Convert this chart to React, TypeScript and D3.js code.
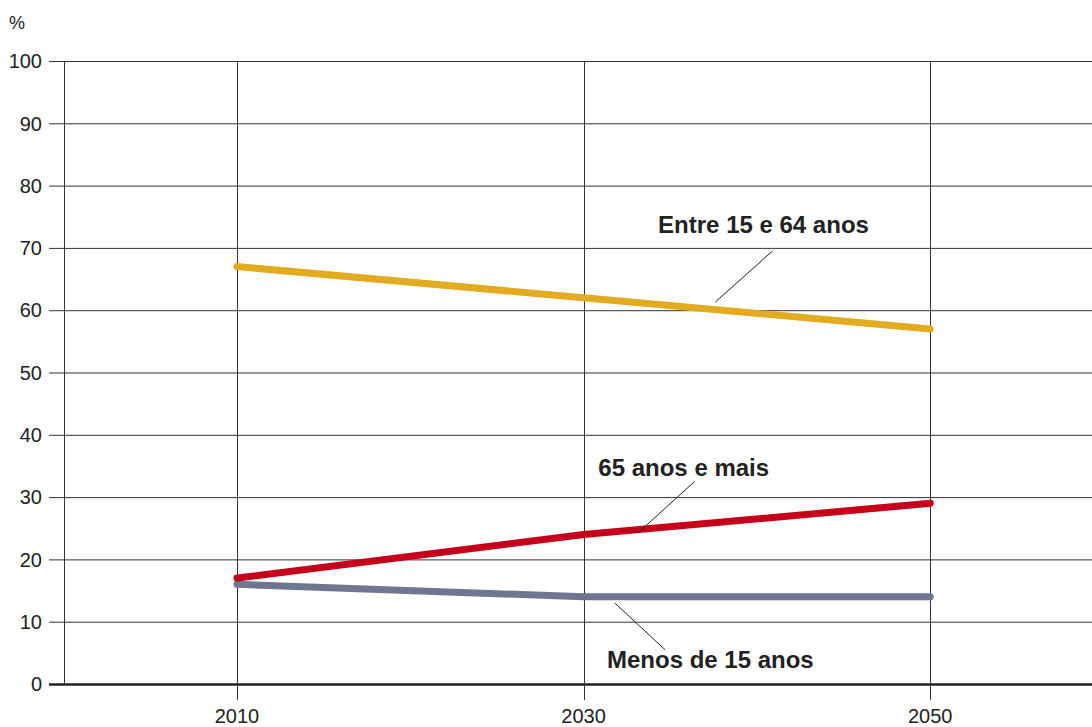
import * as d3 from 'd3';
import {useEffect, useRef} from 'react';

// values (percent of population)
const years = [2010, 2030, 2050];
const workingAge = [67, 62, 57];
const elderly = [17, 24, 29];
const children = [16, 14, 14];
const yTicks = [0, 10, 20, 30, 40, 50, 60, 70, 80, 90, 100];

const seriesNames = ['Entre 15 e 64 anos', '65 anos e mais', 'Menos de 15 anos'];
const seriesColors = ['#e3ab20', '#c4001b', '#6f7691'];

export default function App() {
    const svgRef = useRef<SVGSVGElement>(null);

    const width = 1092;
    const height = 727;

    useEffect(() => {
        const svg = d3.select(svgRef.current);
        svg.selectAll('*').remove();

        const left = 64;
        const top = 61;
        const bottom = 684;

        const x = d3.scaleLinear().domain([2000, 2060]).range([63.7, 63.7 + 60 * 17.33]);
        const y = d3.scaleLinear().domain([0, 100]).range([bottom, top]);

        const font = '"Liberation Sans", Arial, Helvetica, sans-serif';

        // horizontal grid + y ticks
        const grid = svg.append('g');
        grid.selectAll('line.h')
            .data(yTicks)
            .enter()
            .append('line')
            .attr('x1', left - 15)
            .attr('x2', width)
            .attr('y1', d => y(d) + 0.5)
            .attr('y2', d => y(d) + 0.5)
            .attr('stroke', d => d === 0 ? '#222' : '#333')
            .attr('stroke-width', d => d === 0 ? 2.5 : 1);

        // vertical lines at each year
        grid.selectAll('line.v')
            .data(years)
            .enter()
            .append('line')
            .attr('x1', d => Math.round(x(d)) + 0.5)
            .attr('x2', d => Math.round(x(d)) + 0.5)
            .attr('y1', top)
            .attr('y2', bottom + 16)
            .attr('stroke', '#333')
            .attr('stroke-width', 1);

        // left axis line
        grid.append('line')
            .attr('x1', left + 0.5)
            .attr('x2', left + 0.5)
            .attr('y1', top)
            .attr('y2', bottom)
            .attr('stroke', '#333');

        svg.append('g')
            .selectAll('text')
            .data(yTicks)
            .enter()
            .append('text')
            .attr('x', 42)
            .attr('y', d => y(d))
            .attr('dy', '0.36em')
            .attr('text-anchor', 'end')
            .attr('font-family', font)
            .attr('font-size', 20)
            .attr('fill', '#222')
            .text(d => d);

        svg.append('g')
            .selectAll('text')
            .data(years)
            .enter()
            .append('text')
            .attr('x', d => x(d))
            .attr('y', 723)
            .attr('text-anchor', 'middle')
            .attr('font-family', font)
            .attr('font-size', 20)
            .attr('fill', '#222')
            .text(d => d);

        svg.append('text')
            .attr('x', 9)
            .attr('y', 29)
            .attr('font-family', font)
            .attr('font-size', 18)
            .attr('fill', '#222')
            .text('%');

        // series lines
        const allSeries = [workingAge, elderly, children];
        const line = d3.line<number>()
            .x((d, i) => x(years[i]))
            .y(d => y(d));

        // draw grey first so red sits on top where they meet
        [2, 0, 1].forEach(s => {
            svg.append('path')
                .attr('d', line(allSeries[s]))
                .attr('fill', 'none')
                .attr('stroke', seriesColors[s])
                .attr('stroke-width', 7)
                .attr('stroke-linecap', 'round')
                .attr('stroke-linejoin', 'round');
        });

        // labels with leader lines (data coordinates)
        const labels = [
            {text: seriesNames[0], tx: 2034.3, ty: 233, from: [2040.9, 69.5], to: [2037.6, 61.3]},
            {text: seriesNames[1], tx: 2030.85, ty: 476, from: [2036.4, 32.5], to: [2033.2, 24.4]},
            {text: seriesNames[2], tx: 2031.35, ty: 668, from: [2031.8, 13], to: [2034.7, 5.5]},
        ];

        labels.forEach(l => {
            svg.append('line')
                .attr('x1', x(l.from[0]))
                .attr('y1', y(l.from[1]))
                .attr('x2', x(l.to[0]))
                .attr('y2', y(l.to[1]))
                .attr('stroke', '#222')
                .attr('stroke-width', 1);
            svg.append('text')
                .attr('x', x(l.tx))
                .attr('y', l.ty)
                .attr('font-family', font)
                .attr('font-size', 24)
                .attr('font-weight', 'bold')
                .attr('fill', '#222')
                .text(l.text);
        });
    }, []);

    return (
        <svg ref={svgRef} width={width} height={height}
             style={{position: 'absolute', left: 0, top: 0, background: '#fff'}}></svg>
    );
}
